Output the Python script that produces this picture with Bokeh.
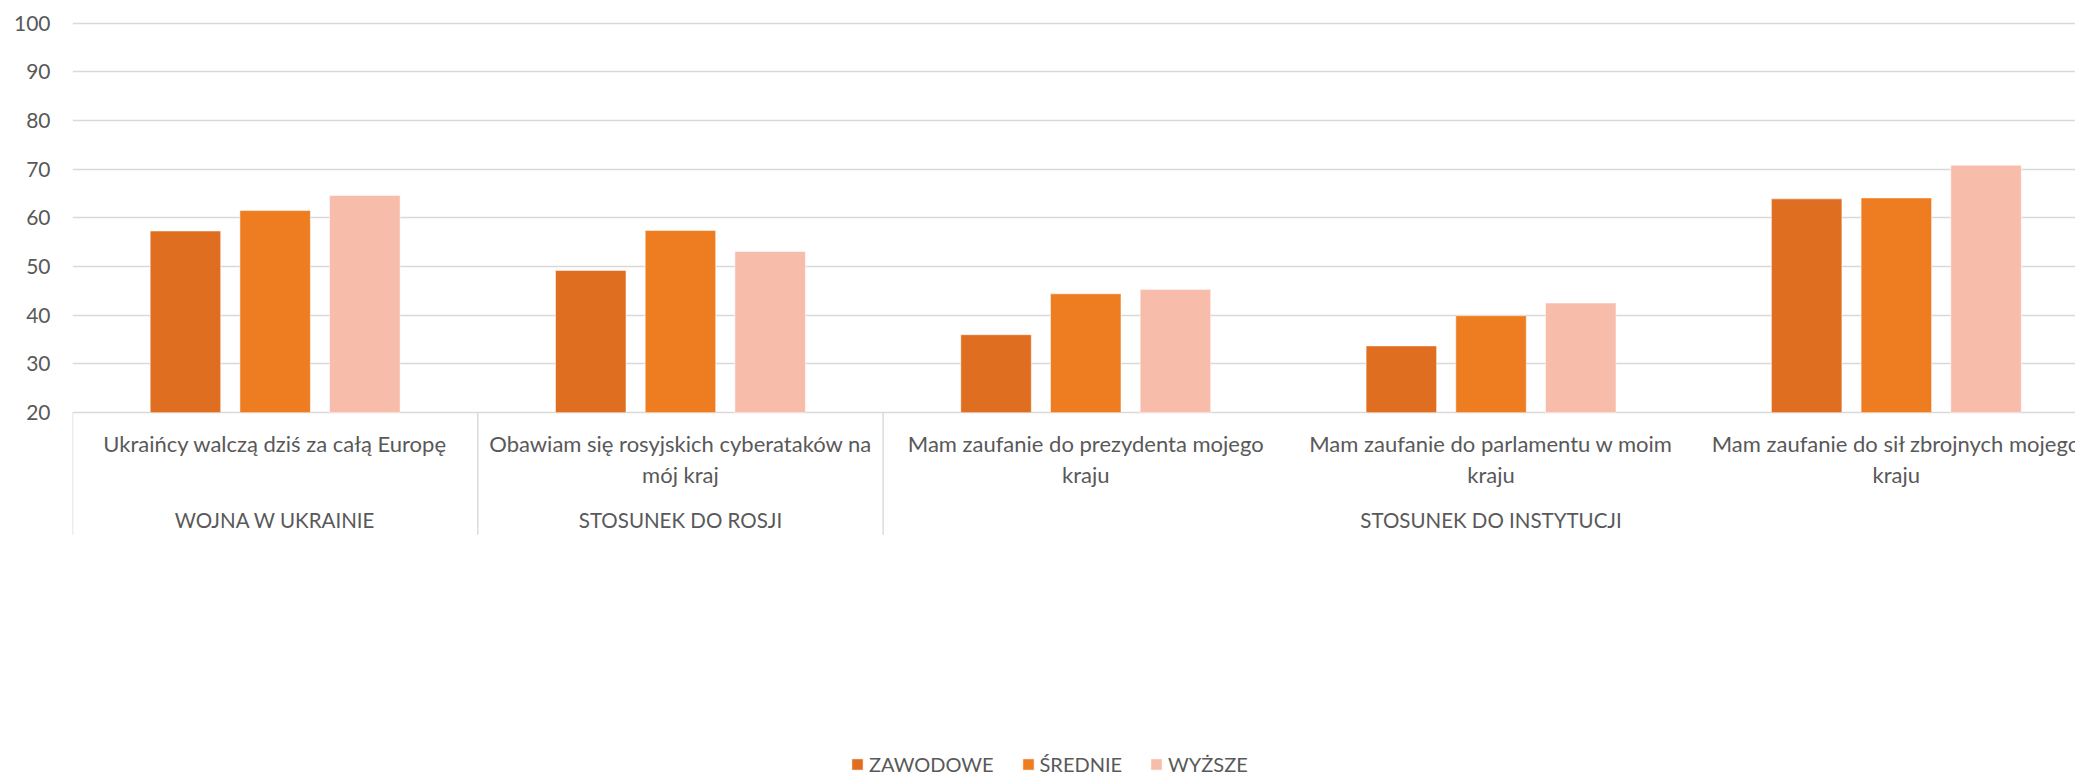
from bokeh.plotting import figure
from bokeh.models import Range1d, FixedTicker, Legend, LegendItem
from bokeh.embed import file_html
from bokeh.resources import INLINE
from bokeh.core.properties import value

# ---- data ----
categories = [
    "Ukraińcy walczą dziś za całą Europę",
    "Obawiam się rosyjskich cyberataków na\nmój kraj",
    "Mam zaufanie do prezydenta mojego\nkraju",
    "Mam zaufanie do parlamentu w moim\nkraju",
    "Mam zaufanie do sił zbrojnych mojego\nkraju",
]
groups = ["WOJNA W UKRAINIE", "STOSUNEK DO ROSJI", "STOSUNEK DO INSTYTUCJI"]
group_sizes = [1, 1, 3]
series_names = ["ZAWODOWE", "ŚREDNIE", "WYŻSZE"]
zawodowe = [57.3, 49.2, 36.0, 33.7, 63.9]
srednie = [61.5, 57.4, 44.4, 39.9, 64.1]
wyzsze = [64.6, 53.1, 45.3, 42.5, 70.8]
y_ticks = [20, 30, 40, 50, 60, 70, 80, 90, 100]

colors = ["#DF6E21", "#EE7D21", "#F7BDAA"]
FONT = "Lato"
TXT = "#595959"
GRID = "#D9D9D9"

W, H = 2075, 776
LEFT = 72
PPU0 = 4.871
Y1 = 100 + 22.6 / PPU0
Y0 = 20 - (H - 412) / PPU0
ppu = H / (Y1 - Y0)
cat_px = 405.3
x_end = (W - LEFT) / cat_px

p = figure(width=W, height=H, output_backend="svg", toolbar_location=None,
           x_range=Range1d(0, x_end), y_range=Range1d(Y0, Y1),
           x_axis_location=None, min_border_left=LEFT, min_border_right=0,
           min_border_top=0, min_border_bottom=0, outline_line_color=None,
           background_fill_color="white", border_fill_color="white")

p.xgrid.visible = False
p.ygrid.ticker = FixedTicker(ticks=y_ticks)
p.ygrid.grid_line_color = GRID
p.ygrid.grid_line_width = 1.4

ax = p.yaxis[0]
ax.ticker = FixedTicker(ticks=y_ticks)
ax.axis_line_color = None
ax.major_tick_line_color = None
ax.minor_tick_line_color = None
ax.major_tick_out = 0
ax.major_label_standoff = 22
ax.major_label_text_font = FONT
ax.major_label_text_font_size = "21px"
ax.major_label_text_color = TXT

# ---- bars ----
bar_w = 70.5 / cat_px
step = 89.7 / cat_px
renderers = []
for k, vals in enumerate([zawodowe, srednie, wyzsze]):
    xs = [i + 0.5 + (k - 1) * step for i in range(len(categories))]
    r = p.vbar(x=xs, top=vals, bottom=y_ticks[0], width=bar_w,
               fill_color=colors[k], line_color="white", line_alpha=0.5,
               line_width=1)
    renderers.append(r)

# ---- category labels ----
line1 = [c.split("\n")[0] for c in categories]
line2 = [c.split("\n")[1] if "\n" in c else "" for c in categories]
cx = [i + 0.5 for i in range(len(categories))]
base = y_ticks[0]
for txt, off in ((line1, 31), (line2, 62)):
    p.text(x=cx, y=[base - off / ppu] * len(cx), text=txt, text_align="center",
           text_baseline="middle", text_font=value(FONT), text_font_size="22px",
           text_color=TXT)

# ---- group labels & separators ----
bounds = [0]
for s in group_sizes:
    bounds.append(bounds[-1] + s)
gx = [(bounds[i] + bounds[i + 1]) / 2 for i in range(len(groups))]
p.text(x=gx, y=[base - 107 / ppu] * len(gx), text=groups, text_align="center",
       text_baseline="middle", text_font=value(FONT), text_font_size="20.5px",
       text_color=TXT)
p.segment(x0=bounds, y0=[base] * len(bounds), x1=bounds,
          y1=[base - 122 / ppu] * len(bounds), line_color=GRID, line_width=1.4)

# ---- legend ----
legend = Legend(items=[LegendItem(label=n, renderers=[r]) for n, r in zip(series_names, renderers)],
                orientation="horizontal", location=(778, 0),
                glyph_width=14, glyph_height=14, label_height=20,
                label_standoff=5, spacing=27, padding=0, margin=0,
                border_line_color=None, background_fill_alpha=0,
                label_text_font=FONT, label_text_font_size="20px",
                label_text_color=TXT)
p.add_layout(legend, "center")

open("out.html", "w").write(file_html(p, INLINE))
